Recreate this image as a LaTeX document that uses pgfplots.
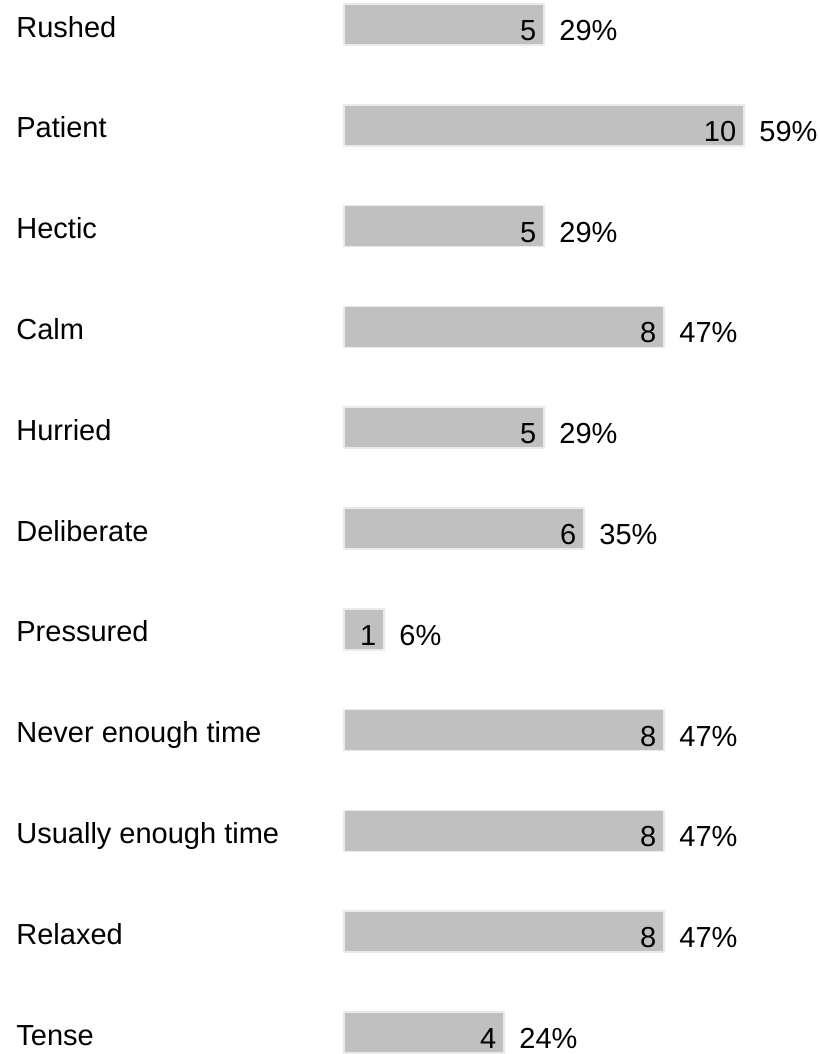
\documentclass[border=0pt]{standalone}
\usepackage{pgfplots}
\pgfplotsset{compat=1.18}
\usepackage{pgfplotstable}
\usepackage{fontspec}
\setmainfont{Liberation Sans}

\definecolor{barfill}{RGB}{192,192,192}
\definecolor{barline}{RGB}{234,234,234}

% i = row from top, n = count, pct = share of 17
\pgfplotstableread{
i n pct
0 5 29
1 10 59
2 5 29
3 8 47
4 5 29
5 6 35
6 1 6
7 8 47
8 8 47
9 8 47
10 4 24
}\answers

\begin{document}
\fontsize{14.5}{16}\selectfont
\begin{tikzpicture}
\useasboundingbox (0,0) rectangle (409.5pt,527pt);
\begin{axis}[
    at={(172pt,0pt)}, anchor=south west,
    scale only axis, width=237.5pt, height=527pt,
    xmin=0, xmax=11.875,
    ymin=-0.243, ymax=10.213, y dir=reverse,
    clip=false,
    axis line style={draw=none},
    major tick length=0pt,
    xtick=\empty,
    ytick={0,...,10},
    yticklabels={Rushed,Patient,Hectic,Calm,Hurried,Deliberate,Pressured,Never enough time,Usually enough time,Relaxed,Tense},
    yticklabel style={anchor=base west, inner xsep=0pt, xshift=-164pt, yshift=-6.3pt},
    bar width=20.5pt, bar shift=0pt,
    /pgf/number format/assume math mode=true,
]
\addplot[xbar, fill=barfill, draw=barline, line width=0.8pt,
    nodes near coords,
    every node near coord/.append style={anchor=base east, inner sep=0pt, xshift=-3.5pt, yshift=-8pt, text=black}]
    table[x=n, y=i] {\answers};
\addplot[xbar, draw=none, fill=none, forget plot,
    point meta=explicit symbolic,
    nodes near coords={\pgfplotspointmeta\%},
    every node near coord/.append style={anchor=base west, inner sep=0pt, xshift=7.5pt, yshift=-8pt, text=black}]
    table[x=n, y=i, meta=pct] {\answers};
\end{axis}
\end{tikzpicture}
\end{document}
